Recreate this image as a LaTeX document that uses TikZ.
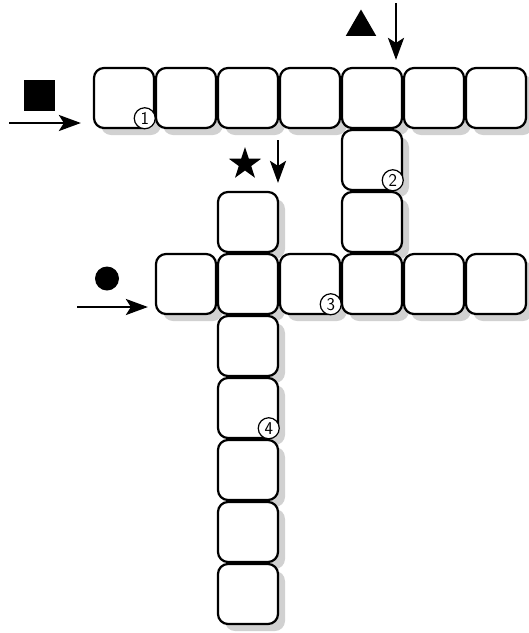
\documentclass[tikz,border=0pt]{standalone}
\usepackage{tikz}
\usetikzlibrary{arrows.meta,shapes.geometric,shadows}

\tikzset{
  cell/.style={draw, line width=2.2pt, rounded corners=10pt, fill=white,
    minimum size=60pt, inner sep=0pt,
    drop shadow={shadow xshift=7pt, shadow yshift=-7pt, fill=black!18, opacity=1}},
  numtag/.style={draw, circle, fill=white, line width=1.2pt, minimum size=21pt, inner sep=0pt,
    anchor=south east, font=\sffamily\fontsize{18}{18}\selectfont},
  hint/.style={fill=black, draw=none, inner sep=0pt},
  pointer/.style={-{Stealth[length=22pt,width=16pt,inset=5pt]}, line width=2.6pt},
}

\begin{document}
\begin{tikzpicture}[x=1pt,y=-1pt]
    \useasboundingbox (0,0) rectangle (529,633);
    % grid cells, row by row (row/column)
    \foreach \r/\c in {0/0,0/1,0/2,0/3,0/4,0/5,0/6, 1/4, 2/2,2/4,
                       3/1,3/2,3/3,3/4,3/5,3/6, 4/2,5/2,6/2,7/2,8/2} {
        \node[cell] (c\r\c) at ({124+62*\c},{98+62*\r}) {};
    }
    % numbered starts
    \node[numtag] (n1) at ([shift={(-2.5,-3)}]c00.south east) {1};
    \node[numtag] (n2) at ([shift={(-2.5,-3)}]c14.south east) {2};
    \node[numtag] (n3) at ([shift={(-2.5,-3)}]c33.south east) {3};
    \node[numtag] (n4) at ([shift={(-2.5,-3)}]c52.south east) {4};
    % clue symbols
    \node[hint, minimum size=31pt] (sq) at (39.5,95.5) {};
    \node[hint, regular polygon, regular polygon sides=3, minimum size=35pt] (tri) at (361,27) {};
    \node[hint, star, star points=5, star point ratio=2.6, minimum size=34pt] (st) at (245,164) {};
    \node[hint, circle, minimum size=24pt] (dot) at (107,278.5) {};
    % entry arrows
    \coordinate (sqtail) at (9,123);
    \coordinate (tritail) at (396,3);
    \coordinate (sttail) at (278,140);
    \coordinate (dottail) at (77,307);
    \draw[pointer] (sqtail) -- ([xshift=-12pt]sqtail -| c00.west);
    \draw[pointer] (tritail) -- ([yshift=7pt]tritail |- c04.north);
    \draw[pointer] (sttail) -- ([yshift=8pt]sttail |- c22.north);
    \draw[pointer] (dottail) -- ([xshift=-7pt]dottail -| c31.west);
\end{tikzpicture}
\end{document}
